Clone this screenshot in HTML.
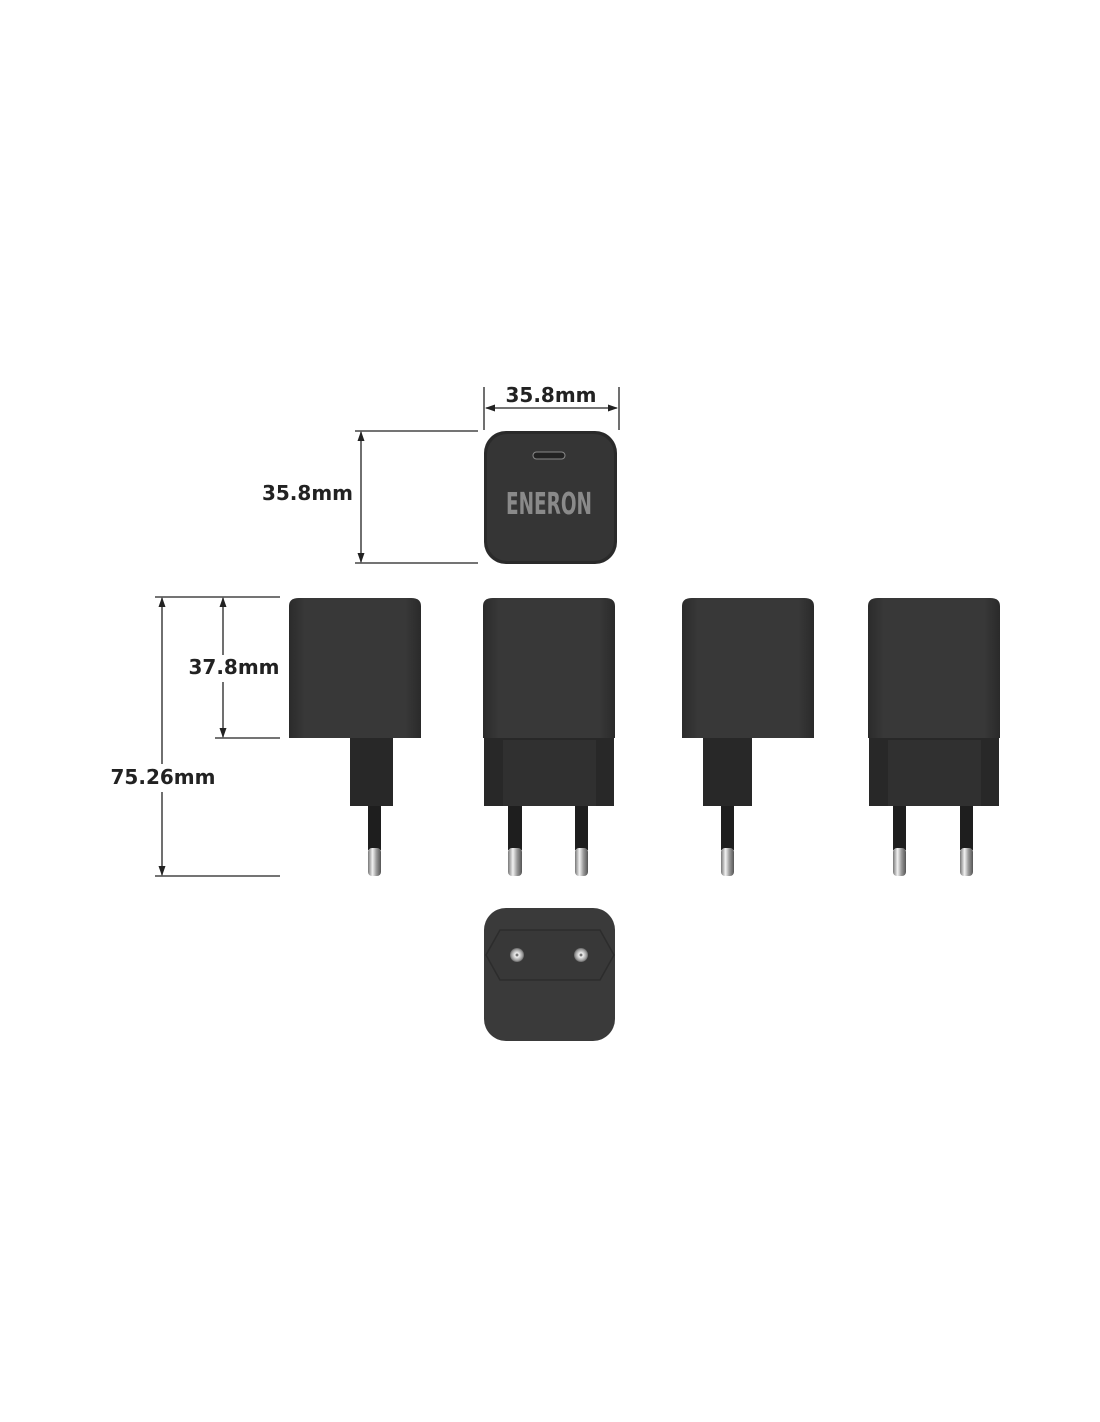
<!DOCTYPE html>
<html><head><style>
html,body{margin:0;padding:0;background:#fff;}
svg{display:block;}
text{font-family:"DejaVu Sans","Liberation Sans",sans-serif;font-weight:bold;fill:#222;}
</style></head><body>
<svg width="1100" height="1422" viewBox="0 0 1100 1422" xmlns="http://www.w3.org/2000/svg">
<defs>
<marker id="a" viewBox="0 0 10 10" refX="9" refY="5" markerWidth="10" markerHeight="10" markerUnits="userSpaceOnUse" orient="auto-start-reverse"><path d="M0,1.5 L10,5 L0,8.5 Z" fill="#222"/></marker>
<linearGradient id="body" x1="0" x2="1" y1="0" y2="0">
<stop offset="0" stop-color="#2b2b2b"/><stop offset="0.12" stop-color="#383838"/><stop offset="0.88" stop-color="#383838"/><stop offset="1" stop-color="#2a2a2a"/></linearGradient>
<linearGradient id="metal" x1="0" x2="1"><stop offset="0" stop-color="#777"/><stop offset="0.35" stop-color="#f2f2f2"/><stop offset="0.65" stop-color="#999"/><stop offset="1" stop-color="#555"/></linearGradient>
<radialGradient id="sock"><stop offset="0" stop-color="#333"/><stop offset="0.3" stop-color="#eee"/><stop offset="0.8" stop-color="#999"/><stop offset="1" stop-color="#666"/></radialGradient>
</defs>

<line x1="484" y1="387" x2="484" y2="430" stroke="#222" stroke-width="1.3"/>
<line x1="619" y1="387" x2="619" y2="430" stroke="#222" stroke-width="1.3"/>
<line x1="486" y1="408" x2="617" y2="408" stroke="#222" stroke-width="1.3" marker-start="url(#a)" marker-end="url(#a)"/>
<text x="551" y="402" font-size="20" text-anchor="middle">35.8mm</text>

<line x1="355" y1="431" x2="478" y2="431" stroke="#222" stroke-width="1.3"/>
<line x1="355" y1="563" x2="478" y2="563" stroke="#222" stroke-width="1.3"/>
<line x1="361" y1="432" x2="361" y2="562" stroke="#222" stroke-width="1.3" marker-start="url(#a)" marker-end="url(#a)"/>
<text x="353" y="500" font-size="20" text-anchor="end">35.8mm</text>

<rect x="484" y="431" width="133" height="133" rx="22" fill="#2a2a2a"/>
<rect x="487" y="434" width="127" height="127" rx="20" fill="#353535"/>
<rect x="533" y="452" width="32" height="7" rx="3.5" fill="#222" stroke="#888" stroke-width="1"/>
<text x="549" y="514" font-size="30" text-anchor="middle" font-family="'Liberation Sans Narrow','DejaVu Sans Condensed',sans-serif" style="fill:#8a8a8a" textLength="86" lengthAdjust="spacingAndGlyphs">ENERON</text>

<line x1="155" y1="597" x2="280" y2="597" stroke="#222" stroke-width="1.3"/>
<line x1="215" y1="738" x2="280" y2="738" stroke="#222" stroke-width="1.3"/>
<line x1="155" y1="876" x2="280" y2="876" stroke="#222" stroke-width="1.3"/>
<line x1="162" y1="598" x2="162" y2="764" stroke="#222" stroke-width="1.3" marker-start="url(#a)"/>
<line x1="162" y1="792" x2="162" y2="875" stroke="#222" stroke-width="1.3" marker-end="url(#a)"/>
<line x1="223" y1="598" x2="223" y2="655" stroke="#222" stroke-width="1.3" marker-start="url(#a)"/>
<line x1="223" y1="682" x2="223" y2="737" stroke="#222" stroke-width="1.3" marker-end="url(#a)"/>
<text x="234" y="674" font-size="20" text-anchor="middle">37.8mm</text>
<text x="163" y="784" font-size="20" text-anchor="middle">75.26mm</text>

<g>
<path d="M289,606 Q289,598 299,598 L411,598 Q421,598 421,606 L421,738 L289,738 Z" fill="url(#body)"/>
<rect x="350" y="738" width="43" height="68" fill="#282828"/>
<rect x="368" y="806" width="13" height="44" fill="#1e1e1e"/>
<rect x="368" y="848" width="13" height="28" rx="4" fill="url(#metal)"/>
</g>
<g>
<path d="M483,606 Q483,598 493,598 L605,598 Q615,598 615,606 L615,738 L483,738 Z" fill="url(#body)"/>
<rect x="484" y="738" width="130" height="68" fill="#282828"/>
<rect x="503" y="740" width="93" height="66" fill="#303030"/>
<rect x="508" y="806" width="14" height="44" fill="#1e1e1e"/>
<rect x="508" y="848" width="14" height="28" rx="4" fill="url(#metal)"/>
<rect x="575" y="806" width="13" height="44" fill="#1e1e1e"/>
<rect x="575" y="848" width="13" height="28" rx="4" fill="url(#metal)"/>
</g>
<g>
<path d="M682,606 Q682,598 692,598 L804,598 Q814,598 814,606 L814,738 L682,738 Z" fill="url(#body)"/>
<rect x="703" y="738" width="49" height="68" fill="#282828"/>
<rect x="721" y="806" width="13" height="44" fill="#1e1e1e"/>
<rect x="721" y="848" width="13" height="28" rx="4" fill="url(#metal)"/>
</g>
<g>
<path d="M868,606 Q868,598 878,598 L990,598 Q1000,598 1000,606 L1000,738 L868,738 Z" fill="url(#body)"/>
<rect x="869" y="738" width="130" height="68" fill="#282828"/>
<rect x="888" y="740" width="93" height="66" fill="#303030"/>
<rect x="893" y="806" width="13" height="44" fill="#1e1e1e"/>
<rect x="893" y="848" width="13" height="28" rx="4" fill="url(#metal)"/>
<rect x="960" y="806" width="13" height="44" fill="#1e1e1e"/>
<rect x="960" y="848" width="13" height="28" rx="4" fill="url(#metal)"/>
</g>

<rect x="484" y="908" width="131" height="133" rx="22" fill="#3a3a3a"/>
<path d="M500,930 L600,930 L614,955 L600,980 L500,980 L486,955 Z" fill="#383838" stroke="#2c2c2c" stroke-width="1.5"/>
<circle cx="517" cy="955" r="7" fill="url(#sock)"/>
<circle cx="581" cy="955" r="7" fill="url(#sock)"/>
</svg>
</body></html>
